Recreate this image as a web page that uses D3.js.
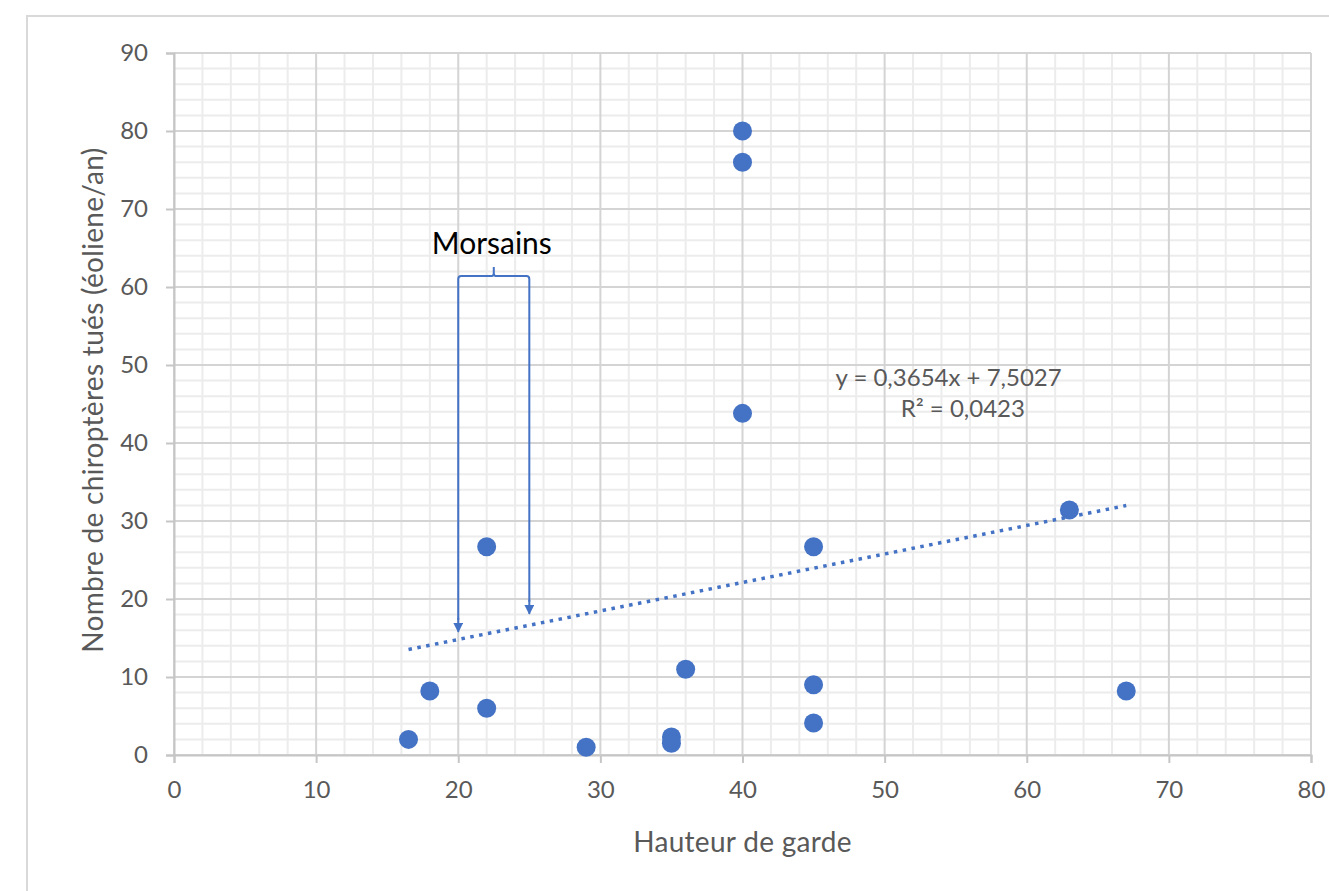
<!DOCTYPE html>
<html>
<head>
<meta charset="utf-8">
<script src="https://cdn.jsdelivr.net/npm/d3@7"></script>
<style>
  html, body { margin: 0; padding: 0; background: #fff; }
  svg { display: block; font-family: Lato, "Open Sans", sans-serif; }
</style>
</head>
<body>
<svg width="1329" height="891"></svg>
<script>
// données
const hauteurs = [16.5, 18, 22, 22, 29, 35, 35, 36, 40, 40, 40, 45, 45, 45, 63, 67];
const mortalites = [2, 8.2, 26.7, 6, 1, 2.3, 1.5, 11, 80, 76, 43.8, 26.7, 9, 4.1, 31.4, 8.2];
const ticksX = [0, 10, 20, 30, 40, 50, 60, 70, 80];
const ticksY = [0, 10, 20, 30, 40, 50, 60, 70, 80, 90];
const pente = 0.3654, origine = 7.5027;
const equation = ['y = 0,3654x + 7,5027', 'R² = 0,0423'];
// annotation Morsains (unités des données)
const morsains = { label: 'Morsains', x1: 20, x2: 25, haut: 61.4, pointes: [15.8, 18.1] };

const svg = d3.select('svg');
const margens = { left: 174, right: 18, top: 53, bottom: 136 };
const width = +svg.attr('width'), height = +svg.attr('height');
const innerWidth = width - margens.left - margens.right;
const innerHeight = height - margens.top - margens.bottom;

const bleu = '#4472c4';

// cadre
svg.append('path')
    .attr('d', `M27,${height} V16 H${width}`)
    .attr('fill', 'none')
    .attr('stroke', '#d9d9d9')
    .attr('stroke-width', 2);

const x = d3.scaleLinear().domain([0, 80]).range([0, innerWidth]);
const y = d3.scaleLinear().domain([0, 90]).range([innerHeight, 0]);

const g = svg.append('g').attr('transform', `translate(${margens.left},${margens.top})`);

// grille secondaire
g.append('g')
    .selectAll('line')
    .data(d3.range(0, 81, 2).filter(v => v % 10 !== 0))
    .join('line')
    .attr('x1', d => x(d)).attr('x2', d => x(d))
    .attr('y1', 0).attr('y2', innerHeight)
    .attr('stroke', '#ececec').attr('stroke-width', 2);

g.append('g')
    .selectAll('line')
    .data(d3.range(0, 91, 2).filter(v => v % 10 !== 0))
    .join('line')
    .attr('y1', d => y(d)).attr('y2', d => y(d))
    .attr('x1', 0).attr('x2', innerWidth)
    .attr('stroke', '#ececec').attr('stroke-width', 2);

// grille principale
g.append('g')
    .selectAll('line')
    .data(ticksX)
    .join('line')
    .attr('x1', d => x(d)).attr('x2', d => x(d))
    .attr('y1', 0).attr('y2', innerHeight)
    .attr('stroke', '#d4d4d4').attr('stroke-width', 2);

g.append('g')
    .selectAll('line')
    .data(ticksY)
    .join('line')
    .attr('y1', d => y(d)).attr('y2', d => y(d))
    .attr('x1', 0).attr('x2', innerWidth)
    .attr('stroke', '#d4d4d4').attr('stroke-width', 2);

// axes
const eixoX = g.append('g')
    .attr('transform', `translate(0,${innerHeight})`)
    .call(d3.axisBottom(x).tickValues(ticksX).tickSize(8).tickPadding(18));
const eixoY = g.append('g')
    .call(d3.axisLeft(y).tickValues(ticksY).tickSize(8).tickPadding(18));

[eixoX, eixoY].forEach(a => {
    a.attr('font-family', null).attr('font-size', null);
    a.select('.domain').attr('stroke', '#c6c6c6').attr('stroke-width', 2);
    a.selectAll('.tick line').attr('stroke', '#c6c6c6').attr('stroke-width', 2);
    a.selectAll('text').attr('fill', '#595959').style('font-size', '24px');
});

// titres des axes
g.append('text')
    .attr('x', x(40))
    .attr('y', innerHeight + 97)
    .attr('text-anchor', 'middle')
    .attr('fill', '#595959')
    .style('font-size', '28px')
    .style('letter-spacing', '0.3px')
    .text('Hauteur de garde');

g.append('text')
    .attr('transform', `translate(${93 - margens.left},${y(45.5)}) rotate(-90)`)
    .attr('text-anchor', 'middle')
    .attr('dy', '0.35em')
    .attr('fill', '#595959')
    .style('font-size', '28px')
    .style('letter-spacing', '0.3px')
    .text('Nombre de chiroptères tués (éoliene/an)');

// courbe de tendance
const xmin = d3.min(hauteurs), xmax = d3.max(hauteurs);
g.append('line')
    .attr('x1', x(xmin)).attr('y1', y(pente * xmin + origine))
    .attr('x2', x(xmax)).attr('y2', y(pente * xmax + origine))
    .attr('stroke', bleu)
    .attr('stroke-width', 3.5)
    .attr('stroke-dasharray', '3.5 5.5');

// points
g.append('g')
    .selectAll('circle')
    .data(hauteurs.map((h, i) => ({ h, m: mortalites[i] })))
    .join('circle')
    .attr('cx', d => x(d.h))
    .attr('cy', d => y(d.m))
    .attr('r', 9.5)
    .attr('fill', bleu);

// équation
g.append('text')
    .attr('text-anchor', 'middle')
    .attr('fill', '#595959')
    .style('font-size', '24px')
    .selectAll('tspan')
    .data(equation)
    .join('tspan')
    .attr('x', (d, i) => x(i === 0 ? 54.5 : 55.5))
    .attr('y', (d, i) => y(i === 0 ? 47.3 : 43.3))
    .text(d => d);

// annotation Morsains
const defs = svg.append('defs');
defs.append('marker')
    .attr('id', 'fleche')
    .attr('viewBox', '0 0 10 10')
    .attr('refX', 9).attr('refY', 5)
    .attr('markerWidth', 5).attr('markerHeight', 5)
    .attr('orient', 'auto')
    .append('path')
    .attr('d', 'M0,0 L10,5 L0,10 Z')
    .attr('fill', bleu);

const xa = x(morsains.x1), xb = x(morsains.x2), yh = y(morsains.haut);
const xm = (xa + xb) / 2;
g.append('path')
    .attr('d', `M${xa},${y(morsains.pointes[0]) - 12} V${yh + 3} Q${xa},${yh} ${xa + 3},${yh} H${xm - 2} Q${xm},${yh} ${xm},${yh - 3} V${yh - 9} M${xm},${yh - 3} Q${xm},${yh} ${xm + 2},${yh} H${xb - 3} Q${xb},${yh} ${xb},${yh + 3} V${y(morsains.pointes[1]) - 12}`)
    .attr('fill', 'none')
    .attr('stroke', bleu)
    .attr('stroke-width', 2);

[[xa, morsains.pointes[0]], [xb, morsains.pointes[1]]].forEach(([px, py]) => {
    g.append('line')
        .attr('x1', px).attr('x2', px)
        .attr('y1', y(py) - 14).attr('y2', y(py))
        .attr('stroke', bleu)
        .attr('stroke-width', 2)
        .attr('marker-end', 'url(#fleche)');
});

g.append('text')
    .attr('x', xm - 2)
    .attr('y', y(64.2))
    .attr('text-anchor', 'middle')
    .attr('fill', '#000')
    .style('font-size', '30px')
    .text(morsains.label);
</script>
</body>
</html>
